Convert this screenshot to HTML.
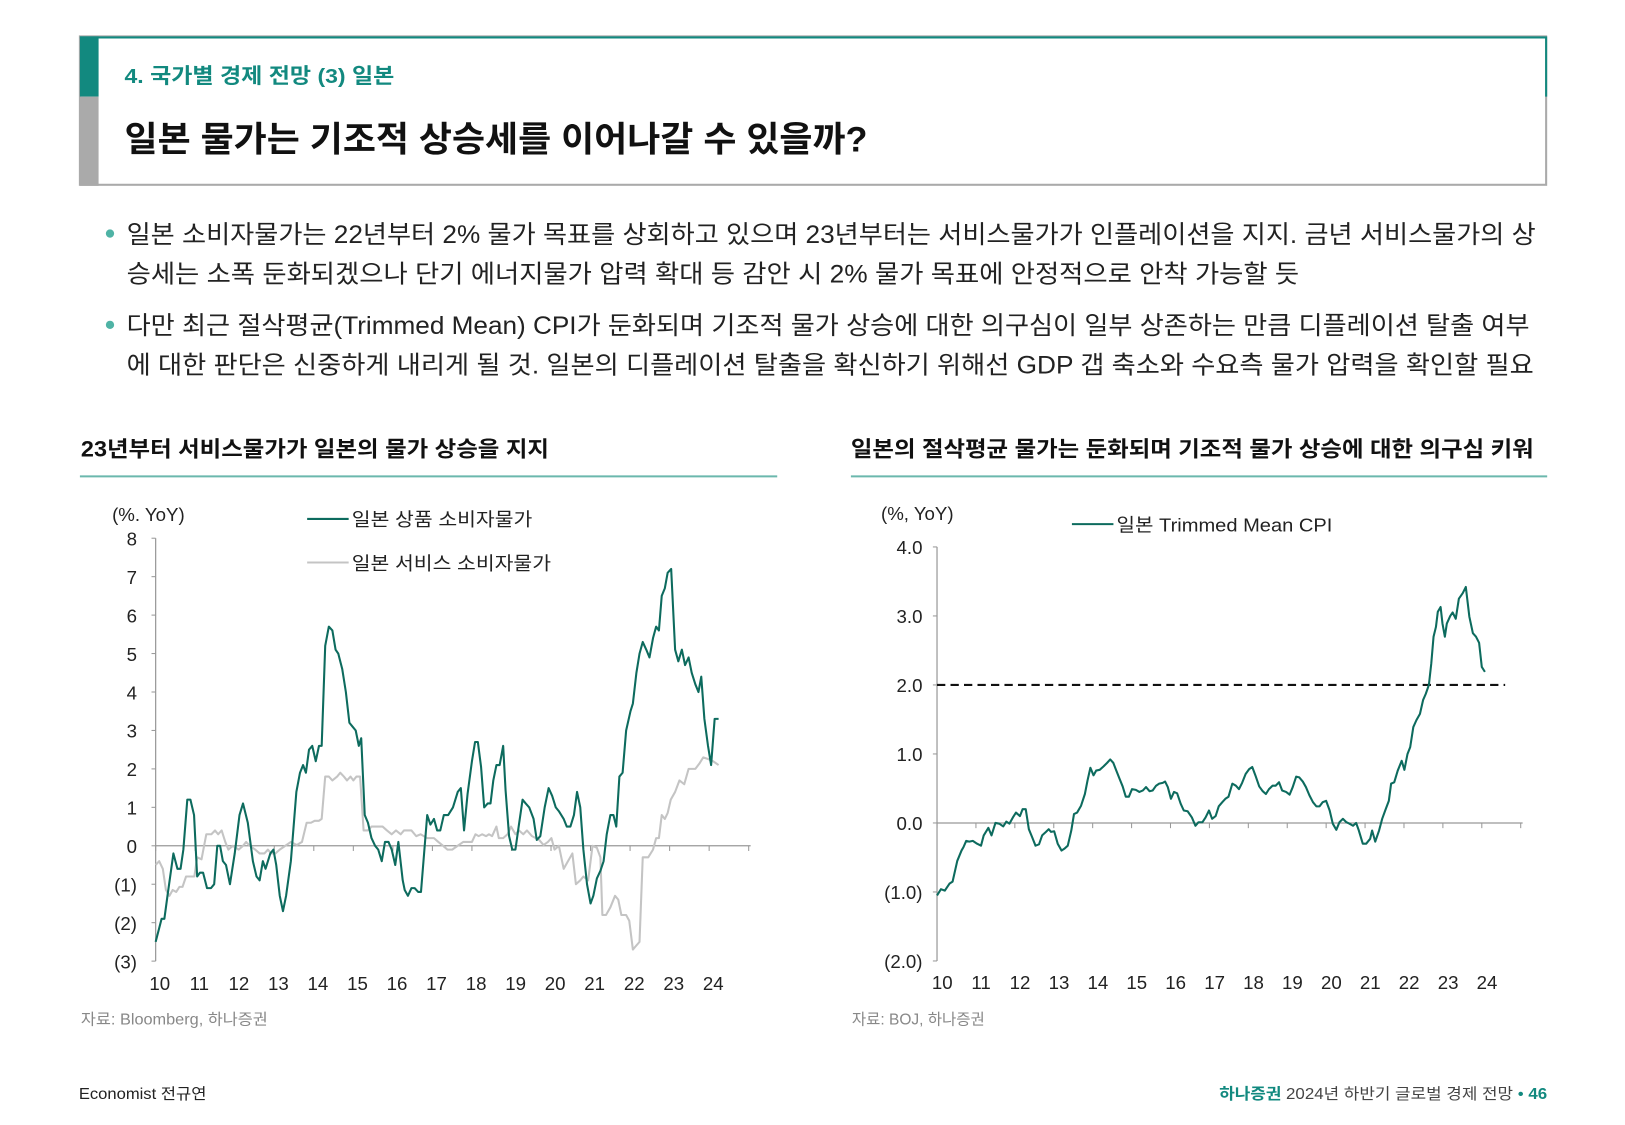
<!DOCTYPE html>
<html><head><meta charset="utf-8"><style>
html,body{margin:0;padding:0;background:#fff;}
svg{display:block;font-family:"Liberation Sans","Noto Sans CJK KR",sans-serif;}
</style></head><body>
<svg id="page" width="1625" height="1125" viewBox="0 0 1566 1084">
  <g>
    <rect x="77" y="35" width="1413" height="143" fill="none" stroke="#aaa" stroke-width="2"/>
    <path d="M77 36 H1490 V93" fill="none" stroke="#12897f" stroke-width="2"/>
    <rect x="77" y="35" width="18" height="58" fill="#12897f"/>
    <rect x="77" y="93" width="18" height="86" fill="#aaa"/>
    <text x="120" y="80" font-size="20" font-weight="bold" fill="#12897f" textLength="260" lengthAdjust="spacingAndGlyphs">4. 국가별 경제 전망 (3) 일본</text>
    <text x="120" y="146" font-size="34" font-weight="bold" fill="#111" textLength="716" lengthAdjust="spacingAndGlyphs">일본 물가는 기조적 상승세를 이어나갈 수 있을까?</text>
  </g>
  <g font-size="24" fill="#222">
    <circle cx="106" cy="225" r="4" fill="#4fb3a5"/>
    <text x="122" y="234" textLength="1358" lengthAdjust="spacingAndGlyphs">일본 소비자물가는 22년부터 2% 물가 목표를 상회하고 있으며 23년부터는 서비스물가가 인플레이션을 지지. 금년 서비스물가의 상</text>
    <text x="122" y="272" textLength="1130" lengthAdjust="spacingAndGlyphs">승세는 소폭 둔화되겠으나 단기 에너지물가 압력 확대 등 감안 시 2% 물가 목표에 안정적으로 안착 가능할 듯</text>
    <circle cx="106" cy="313" r="4" fill="#4fb3a5"/>
    <text x="122" y="322" textLength="1352" lengthAdjust="spacingAndGlyphs">다만 최근 절삭평균(Trimmed Mean) CPI가 둔화되며 기조적 물가 상승에 대한 의구심이 일부 상존하는 만큼 디플레이션 탈출 여부</text>
    <text x="122" y="360" textLength="1356" lengthAdjust="spacingAndGlyphs">에 대한 판단은 신중하게 내리게 될 것. 일본의 디플레이션 탈출을 확신하기 위해선 GDP 갭 축소와 수요측 물가 압력을 확인할 필요</text>
  </g>
  <g>
    <text x="78" y="440" font-size="21" font-weight="bold" fill="#111" textLength="451" lengthAdjust="spacingAndGlyphs">23년부터 서비스물가가 일본의 물가 상승을 지지</text>
    <line x1="77" y1="459" x2="749" y2="459" stroke="#6bb8ad" stroke-width="2"/>
  </g>
  <g>
    <text x="820" y="440" font-size="21" font-weight="bold" fill="#111" textLength="658" lengthAdjust="spacingAndGlyphs">일본의 절삭평균 물가는 둔화되며 기조적 물가 상승에 대한 의구심 키워</text>
    <line x1="820" y1="459" x2="1491" y2="459" stroke="#6bb8ad" stroke-width="2"/>
  </g>
  <g id="left-chart"></g>
  <g id="right-chart"></g>
  <text x="78" y="987" font-size="15" fill="#888" textLength="180" lengthAdjust="spacingAndGlyphs">자료: Bloomberg, 하나증권</text>
  <text x="821" y="987" font-size="15" fill="#888" textLength="128" lengthAdjust="spacingAndGlyphs">자료: BOJ, 하나증권</text>
  <text x="76" y="1059" font-size="15" fill="#222" textLength="123" lengthAdjust="spacingAndGlyphs">Economist 전규연</text>
  <text x="1175" y="1059" font-size="15" fill="#444" textLength="316" lengthAdjust="spacingAndGlyphs"><tspan fill="#12897f" font-weight="bold">하나증권</tspan> 2024년 하반기 글로벌 경제 전망 <tspan fill="#12897f">•</tspan> <tspan fill="#12897f" font-weight="bold">46</tspan></text>
</svg>
<script>
// ---- Left chart data ----
const leftYears = [10,11,12,13,14,15,16,17,18,19,20,21,22,23,24];
const leftYTicks = [8,7,6,5,4,3,2,1,0,-1,-2,-3];
const leftYTickLabels = ["8","7","6","5","4","3","2","1","0","(1)","(2)","(3)"];
const goodsDates = [10.0,10.15,10.22,10.3,10.45,10.55,10.63,10.7,10.8,10.88,10.97,11.05,11.12,11.2,11.3,11.4,11.48,11.56,11.63,11.7,11.78,11.88,12.0,12.12,12.21,12.33,12.46,12.55,12.63,12.71,12.78,12.9,12.98,13.05,13.14,13.22,13.3,13.42,13.56,13.65,13.73,13.8,13.88,13.96,14.05,14.13,14.2,14.29,14.38,14.47,14.55,14.62,14.72,14.81,14.9,14.98,15.06,15.14,15.2,15.29,15.37,15.46,15.55,15.63,15.72,15.8,15.89,15.97,16.06,16.14,16.25,16.3,16.38,16.47,16.55,16.64,16.71,16.79,16.87,16.95,17.04,17.12,17.2,17.29,17.4,17.52,17.64,17.72,17.8,17.89,18.0,18.08,18.15,18.23,18.31,18.4,18.47,18.54,18.62,18.7,18.79,18.85,18.94,19.02,19.1,19.19,19.28,19.36,19.45,19.56,19.64,19.73,19.84,19.94,20.03,20.12,20.2,20.32,20.4,20.49,20.58,20.66,20.74,20.82,20.91,21.0,21.07,21.16,21.25,21.33,21.41,21.5,21.58,21.65,21.73,21.81,21.9,22.01,22.07,22.16,22.24,22.32,22.41,22.49,22.58,22.66,22.73,22.8,22.88,22.95,23.04,23.14,23.22,23.31,23.39,23.48,23.56,23.65,23.73,23.8,23.88,23.97,24.05,24.14,24.24];
const goodsValues = [-2.5,-1.9,-1.9,-1.3,-0.2,-0.6,-0.6,-0.1,1.2,1.2,0.8,-0.8,-0.7,-0.7,-1.1,-1.1,-1.0,0,0,-0.4,-0.5,-1.0,-0.2,0.8,1.1,0.6,-0.4,-0.8,-0.9,-0.4,-0.6,-0.2,-0.1,-0.5,-1.3,-1.7,-1.3,-0.4,1.4,1.9,2.1,1.9,2.5,2.6,2.2,2.6,2.6,5.2,5.7,5.6,5.1,5.0,4.6,4.0,3.2,3.1,3.0,2.6,2.8,0.8,0.6,0.2,0,-0.1,-0.4,0.1,0.1,-0.1,-0.5,0.1,-0.9,-1.15,-1.3,-1.1,-1.1,-1.2,-1.2,-0.2,0.8,0.55,0.7,0.4,0.4,0.8,0.8,1.0,1.4,1.5,0.4,1.35,2.2,2.7,2.7,2.05,1.0,1.1,1.1,1.7,2.1,2.1,2.6,1.45,0.25,-0.1,-0.1,0.55,1.2,1.1,1.0,0.7,0.15,0.25,1.0,1.5,1.3,1.0,0.9,0.7,0.5,0.5,0.8,1.4,1.0,-0.1,-1.0,-1.5,-1.3,-0.85,-0.65,-0.4,0.3,0.8,0.8,0.5,1.8,1.9,3.0,3.5,3.7,4.5,5.0,5.3,5.1,4.9,5.4,5.7,5.6,6.5,6.7,7.1,7.2,5.1,4.8,5.1,4.7,4.9,4.5,4.2,4.0,4.4,3.3,2.6,2.1,3.3,3.3];
const servDates = [10.0,10.09,10.18,10.26,10.35,10.43,10.52,10.6,10.68,10.77,10.9,10.98,11.05,11.16,11.28,11.41,11.5,11.58,11.67,11.76,11.84,11.95,12.1,12.21,12.29,12.38,12.52,12.63,12.75,12.84,12.92,13.03,13.14,13.28,13.42,13.57,13.7,13.82,13.93,14.02,14.13,14.2,14.29,14.38,14.47,14.59,14.67,14.76,14.84,14.93,15.0,15.08,15.17,15.26,15.37,15.46,15.63,15.74,15.85,15.97,16.08,16.2,16.28,16.47,16.59,16.7,16.87,17.04,17.15,17.27,17.38,17.5,17.64,17.78,17.89,18.0,18.09,18.17,18.26,18.36,18.43,18.51,18.62,18.68,18.79,18.9,18.99,19.1,19.19,19.3,19.39,19.52,19.7,19.81,19.92,20.01,20.09,20.2,20.32,20.43,20.54,20.63,20.74,20.82,20.94,21.05,21.16,21.25,21.3,21.39,21.5,21.62,21.7,21.78,21.9,21.98,22.07,22.24,22.32,22.46,22.58,22.66,22.73,22.8,22.88,22.95,23.03,23.14,23.25,23.37,23.48,23.65,23.76,23.85,23.99,24.1,24.24];
const servValues = [-0.5,-0.4,-0.6,-1.15,-1.3,-1.15,-1.2,-1.07,-1.07,-0.8,-0.8,-0.8,-0.3,-0.35,0.3,0.3,0.4,0.3,0.4,0.1,-0.1,0,-0.1,0,0.1,0,-0.1,-0.2,-0.2,-0.1,-0.2,-0.2,-0.1,0,0.1,0.02,0.1,0.6,0.6,0.65,0.65,0.7,1.8,1.8,1.7,1.8,1.9,1.8,1.7,1.8,1.7,1.8,1.8,0.4,0.4,0.5,0.5,0.5,0.4,0.3,0.4,0.3,0.4,0.4,0.25,0.3,0.2,0.2,0.1,0,-0.1,-0.1,0,0.1,0.1,0.1,0.3,0.25,0.3,0.25,0.3,0.25,0.5,0.2,0.2,0.3,0.5,0.3,0.4,0.3,0.4,0.25,0.15,0.02,0.1,0.2,-0.1,0,-0.6,-0.4,-0.2,-1.0,-0.9,-0.8,-0.9,0,-0.05,-0.3,-1.8,-1.8,-1.6,-1.3,-1.4,-1.8,-1.8,-1.95,-2.7,-2.5,-0.3,-0.3,-0.1,0.2,0.2,0.8,0.7,0.85,1.2,1.4,1.7,1.6,2.0,2.0,2.15,2.3,2.25,2.2,2.1];
// ---- Right chart data ----
const rightYears = [10,11,12,13,14,15,16,17,18,19,20,21,22,23,24];
const rightYTicks = [4,3,2,1,0,-1,-2];
const rightYTickLabels = ["4.0","3.0","2.0","1.0","0.0","(1.0)","(2.0)"];
const targetLevel = [2.0];
const tmDates = [10.0,10.1,10.2,10.32,10.4,10.52,10.63,10.68,10.75,10.83,10.92,11.03,11.13,11.2,11.32,11.4,11.5,11.6,11.7,11.78,11.86,11.95,12.03,12.13,12.2,12.28,12.36,12.44,12.53,12.62,12.7,12.8,12.87,12.93,13.01,13.1,13.2,13.28,13.36,13.45,13.52,13.6,13.7,13.8,13.87,13.94,14.02,14.09,14.18,14.28,14.37,14.45,14.53,14.6,14.69,14.77,14.85,14.93,15.01,15.11,15.2,15.29,15.37,15.46,15.54,15.63,15.71,15.8,15.86,15.93,16.01,16.09,16.17,16.26,16.34,16.44,16.55,16.64,16.72,16.82,16.9,16.99,17.07,17.16,17.24,17.33,17.41,17.49,17.59,17.68,17.76,17.84,17.93,18.02,18.1,18.18,18.28,18.37,18.45,18.53,18.62,18.7,18.79,18.87,18.97,19.06,19.14,19.23,19.31,19.4,19.48,19.57,19.66,19.75,19.83,19.91,20.0,20.09,20.17,20.26,20.34,20.43,20.52,20.6,20.69,20.77,20.84,20.94,21.03,21.13,21.18,21.26,21.36,21.44,21.53,21.61,21.67,21.75,21.84,21.94,22.01,22.09,22.16,22.24,22.32,22.41,22.49,22.56,22.64,22.7,22.76,22.82,22.87,22.94,22.99,23.05,23.1,23.19,23.25,23.33,23.41,23.51,23.59,23.68,23.77,23.85,23.93,24.0,24.08];
const tmValues = [-1.05,-0.96,-0.98,-0.88,-0.85,-0.55,-0.4,-0.35,-0.26,-0.27,-0.26,-0.3,-0.33,-0.18,-0.07,-0.18,0,-0.01,-0.05,0.02,-0.01,0.08,0.15,0.1,0.2,0.2,-0.09,-0.2,-0.33,-0.31,-0.18,-0.13,-0.09,-0.13,-0.12,-0.3,-0.4,-0.37,-0.33,-0.11,0.13,0.15,0.25,0.42,0.62,0.8,0.69,0.76,0.77,0.82,0.87,0.92,0.87,0.77,0.64,0.53,0.38,0.38,0.49,0.48,0.45,0.47,0.52,0.46,0.47,0.54,0.57,0.58,0.6,0.52,0.35,0.45,0.43,0.28,0.18,0.17,0.08,-0.04,0.01,0.01,0.08,0.18,0.06,0.1,0.24,0.3,0.35,0.38,0.57,0.54,0.49,0.58,0.71,0.78,0.81,0.69,0.53,0.46,0.42,0.49,0.54,0.54,0.59,0.47,0.45,0.41,0.52,0.67,0.66,0.6,0.52,0.4,0.3,0.24,0.24,0.3,0.32,0.18,-0.01,-0.1,0.01,0.06,0.01,-0.01,-0.04,0,-0.11,-0.3,-0.3,-0.23,-0.11,-0.27,-0.11,0.06,0.2,0.32,0.57,0.59,0.76,0.9,0.77,1.0,1.1,1.39,1.49,1.58,1.78,1.87,2.0,2.31,2.7,2.84,3.06,3.13,2.89,2.7,2.89,3.0,3.05,2.96,3.25,3.33,3.42,2.99,2.75,2.7,2.61,2.26,2.19];

const NS = "http://www.w3.org/2000/svg";
function mk(tag, attrs, parent){ const e=document.createElementNS(NS,tag); for(const k in attrs) e.setAttribute(k,attrs[k]); parent.appendChild(e); return e; }
const FONT = '"Liberation Sans","Noto Sans CJK KR",sans-serif';

const lx = y => 150 + (y - 10) * 38.1;
const ly = v => 815 - v * 37.05;
const rx = y => 903 + (y - 10) * 37.5;
const ry = v => 793 - v * 66.5;

function buildLeft(){
  const g = document.getElementById('left-chart');
  const yAxis = mk('line',{x1:lx(10),y1:ly(8),x2:lx(10),y2:ly(-3),stroke:'#999','stroke-width':1.2},g);
  
  
  leftYTicks.forEach((v,i)=>{
    const t = mk('line',{x1:lx(10)-4,y1:ly(v),x2:lx(10),y2:ly(v),stroke:'#999'},g);
    
    
    const l = mk('text',{x:132,y:ly(v)+7,'font-size':18,'text-anchor':'end',fill:'#222','font-family':FONT},g);
    l.textContent = leftYTickLabels[i];
    
    
  });
  const xAxis = mk('line',{x1:lx(10),y1:ly(0),x2:lx(25.05),y2:ly(0),stroke:'#999','stroke-width':1.2},g);
  
  
  leftYears.concat([25]).forEach(yr=>{
    const t = mk('line',{x1:lx(yr),y1:ly(0),x2:lx(yr),y2:ly(0)+5,stroke:'#999'},g);
    
    
  });
  leftYears.forEach(yr=>{
    const l = mk('text',{x:lx(yr)+4,y:954,'font-size':18,'text-anchor':'middle',fill:'#222','font-family':FONT},g);
    l.textContent = String(yr);
    
    
  });
  const u = mk('text',{x:108,y:502,'font-size':18,fill:'#222','font-family':FONT},g);
  u.textContent='(%. YoY)';
  
  
  const sp = servDates.map((d,i)=>lx(d).toFixed(1)+','+ly(servValues[i]).toFixed(1)).join(' ');
  const s = mk('polyline',{points:sp,fill:'none',stroke:'#c4c4c4','stroke-width':2,'stroke-linejoin':'round'},g);
  
  
  const gp = goodsDates.map((d,i)=>lx(d).toFixed(1)+','+ly(goodsValues[i]).toFixed(1)).join(' ');
  const gl = mk('polyline',{points:gp,fill:'none',stroke:'#0d6b5e','stroke-width':2,'stroke-linejoin':'round'},g);
  
  
  const lg1 = mk('g',{},g);
  
  
  mk('line',{x1:296,y1:500,x2:336,y2:500,stroke:'#0d6b5e','stroke-width':2},lg1);
  const t1 = mk('text',{x:339,y:507,'font-size':18,fill:'#222','font-family':FONT,textLength:174,lengthAdjust:'spacingAndGlyphs'},lg1);
  t1.textContent='일본 상품 소비자물가';
  const lg2 = mk('g',{},g);
  
  
  mk('line',{x1:296,y1:542,x2:336,y2:542,stroke:'#c4c4c4','stroke-width':2},lg2);
  const t2 = mk('text',{x:339,y:549,'font-size':18,fill:'#222','font-family':FONT,textLength:192,lengthAdjust:'spacingAndGlyphs'},lg2);
  t2.textContent='일본 서비스 소비자물가';
}

function buildRight(){
  const g = document.getElementById('right-chart');
  const yAxis = mk('line',{x1:rx(10),y1:ry(4),x2:rx(10),y2:ry(-2),stroke:'#999','stroke-width':1.2},g);
  
  
  rightYTicks.forEach((v,i)=>{
    const t = mk('line',{x1:rx(10)-4,y1:ry(v),x2:rx(10),y2:ry(v),stroke:'#999'},g);
    
    
    const l = mk('text',{x:889,y:ry(v)+7,'font-size':18,'text-anchor':'end',fill:'#222','font-family':FONT},g);
    l.textContent = rightYTickLabels[i];
    
    
  });
  const xAxis = mk('line',{x1:rx(10),y1:ry(0),x2:rx(25.05),y2:ry(0),stroke:'#999','stroke-width':1.2},g);
  
  
  rightYears.concat([25]).forEach(yr=>{
    const t = mk('line',{x1:rx(yr),y1:ry(0),x2:rx(yr),y2:ry(0)+5,stroke:'#999'},g);
    
    
  });
  rightYears.forEach(yr=>{
    const l = mk('text',{x:rx(yr)+5,y:953,'font-size':18,'text-anchor':'middle',fill:'#222','font-family':FONT},g);
    l.textContent = String(yr);
    
    
  });
  const u = mk('text',{x:849,y:501,'font-size':18,fill:'#222','font-family':FONT},g);
  u.textContent='(%, YoY)';
  
  
  const d = mk('line',{x1:rx(10),y1:ry(targetLevel[0]),x2:rx(24.6),y2:ry(targetLevel[0]),stroke:'#111','stroke-width':2,'stroke-dasharray':'8,5'},g);
  
  
  const p = tmDates.map((dd,i)=>rx(dd).toFixed(1)+','+ry(tmValues[i]).toFixed(1)).join(' ');
  const l = mk('polyline',{points:p,fill:'none',stroke:'#0d6b5e','stroke-width':2,'stroke-linejoin':'round'},g);
  
  
  const lg = mk('g',{},g);
  
  
  mk('line',{x1:1033,y1:505,x2:1073,y2:505,stroke:'#0d6b5e','stroke-width':2},lg);
  const t = mk('text',{x:1076,y:512,'font-size':18,fill:'#222','font-family':FONT,textLength:208,lengthAdjust:'spacingAndGlyphs'},lg);
  t.textContent='일본 Trimmed Mean CPI';
}
buildLeft();
buildRight();
</script>
</body></html>
